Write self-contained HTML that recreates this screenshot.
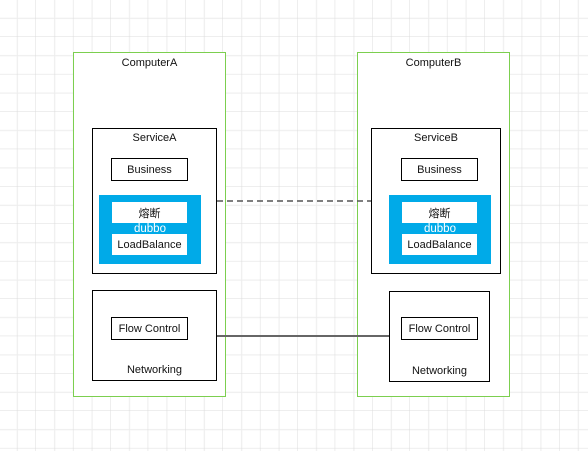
<!DOCTYPE html>
<html><head><meta charset="utf-8"><style>
html,body{margin:0;padding:0;background:#fff}
body{width:588px;height:451px;position:relative;overflow:hidden;font-family:"Liberation Sans","Noto Sans CJK SC",sans-serif;font-size:11px;color:#111}
.b{position:absolute;box-sizing:border-box;border:1px solid #000;background:#fff}
.t{position:absolute;text-align:center;left:0;right:0}
.c{display:flex;align-items:center;justify-content:center}
</style></head><body>
<svg width="588" height="451" style="position:absolute;left:0;top:0">
<defs>
<pattern id="g" x="-1.4" y="-0.4" width="37.4" height="37.4" patternUnits="userSpaceOnUse">
<line x1="18.7" y1="0" x2="18.7" y2="37.4" stroke="#ececec" stroke-width="1"/>
<line x1="0" y1="18.7" x2="37.4" y2="18.7" stroke="#ececec" stroke-width="1"/>
<line x1="37.4" y1="0" x2="37.4" y2="37.4" stroke="#dcdcdc" stroke-width="1"/>
<line x1="0" y1="37.4" x2="37.4" y2="37.4" stroke="#dcdcdc" stroke-width="1"/>
</pattern></defs>
<rect width="588" height="451" fill="url(#g)"/>
</svg>
<!-- Computer A -->
<div class="b" style="left:73px;top:52px;width:153px;height:345px;border-color:#7ccf4f"><div class="t" style="top:4px">ComputerA</div></div>
<div class="b" style="left:92px;top:128px;width:125px;height:146px"><div class="t" style="top:3px">ServiceA</div></div>
<div class="b c" style="left:111px;top:158px;width:77px;height:23px">Business</div>
<div style="position:absolute;left:99px;top:195px;width:102px;height:69px;background:#00aae8"></div>
<div class="b c" style="left:112px;top:202px;width:75px;height:21px;border:none">熔断</div>
<div style="position:absolute;left:99px;top:223px;width:102px;text-align:center;color:#fff;font-size:11.5px;line-height:12px">dubbo</div>
<div class="b c" style="left:112px;top:234px;width:75px;height:21px;border:none">LoadBalance</div>
<div class="b" style="left:92px;top:290px;width:125px;height:91px"><div class="t" style="top:73px">Networking</div></div>
<div class="b c" style="left:111px;top:317px;width:77px;height:23px">Flow Control</div>
<!-- Computer B -->
<div class="b" style="left:357px;top:52px;width:153px;height:345px;border-color:#7ccf4f"><div class="t" style="top:4px">ComputerB</div></div>
<div class="b" style="left:371px;top:128px;width:130px;height:146px"><div class="t" style="top:3px">ServiceB</div></div>
<div class="b c" style="left:401px;top:158px;width:77px;height:23px">Business</div>
<div style="position:absolute;left:389px;top:195px;width:102px;height:69px;background:#00aae8"></div>
<div class="b c" style="left:402px;top:202px;width:75px;height:21px;border:none">熔断</div>
<div style="position:absolute;left:389px;top:223px;width:102px;text-align:center;color:#fff;font-size:11.5px;line-height:12px">dubbo</div>
<div class="b c" style="left:402px;top:234px;width:75px;height:21px;border:none">LoadBalance</div>
<div class="b" style="left:389px;top:291px;width:101px;height:91px"><div class="t" style="top:73px">Networking</div></div>
<div class="b c" style="left:401px;top:317px;width:77px;height:23px">Flow Control</div>
<svg width="588" height="451" style="position:absolute;left:0;top:0">
<line x1="217" y1="201" x2="371" y2="201" stroke="#555" stroke-width="1.5" stroke-dasharray="6,4"/>
<line x1="217" y1="336" x2="389" y2="336" stroke="#666" stroke-width="2"/>
</svg>
</body></html>
